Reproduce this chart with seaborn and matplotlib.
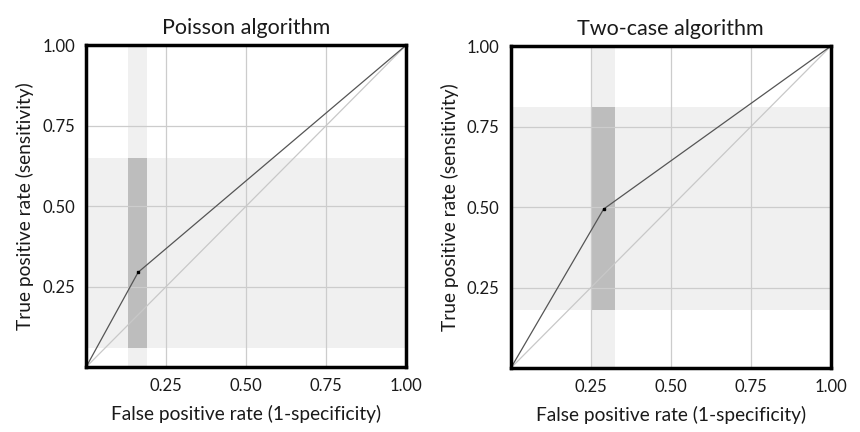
import matplotlib
matplotlib.use("Agg")
import matplotlib.pyplot as plt
import seaborn as sns
import pandas as pd

# ── data ──────────────────────────────────────────────────────────────────────
panel_titles = ["Poisson algorithm", "Two-case algorithm"]

poisson_fpr = [0.0, 0.163, 1.0]
poisson_tpr = [0.0, 0.295, 1.0]
poisson_fpr_ci = [0.13, 0.19]
poisson_tpr_ci = [0.06, 0.65]

twocase_fpr = [0.0, 0.29, 1.0]
twocase_tpr = [0.0, 0.494, 1.0]
twocase_fpr_ci = [0.25, 0.325]
twocase_tpr_ci = [0.18, 0.81]

tick_values = [0.25, 0.50, 0.75, 1.00]
tick_labels = ["0.25", "0.50", "0.75", "1.00"]

# ── style ─────────────────────────────────────────────────────────────────────
sns.set_style("white")
plt.rcParams['font.family'] = ['Lato', 'DejaVu Sans']

LIGHT = '#f0f0f0'
DARK = '#bdbdbd'
GRID = '#cccccc'
TEXT = '#1a1a1a'


def draw_panel(ax, title, fpr, tpr, fpr_ci, tpr_ci):
    # confidence bands: vertical (FPR) and horizontal (TPR), darker where they cross
    ax.axvspan(fpr_ci[0], fpr_ci[1], color=LIGHT, lw=0, zorder=0.2)
    ax.axhspan(tpr_ci[0], tpr_ci[1], color=LIGHT, lw=0, zorder=0.2)
    ax.fill_between(fpr_ci, tpr_ci[0], tpr_ci[1], color=DARK, lw=0, zorder=0.3)

    for v in tick_values[:-1]:
        ax.axvline(v, color=GRID, lw=0.9, zorder=0.5)
        ax.axhline(v, color=GRID, lw=0.9, zorder=0.5)

    # chance diagonal
    ax.plot([0, 1], [0, 1], color='#c8c8c8', lw=0.9, zorder=1)

    df = pd.DataFrame({'fpr': fpr, 'tpr': tpr})
    sns.lineplot(data=df, x='fpr', y='tpr', ax=ax, color='#555555', lw=0.9,
                 sort=False, zorder=2)
    ax.plot(fpr[1], tpr[1], 's', color='black', ms=2, zorder=3)

    ax.set_xlim(0, 1)
    ax.set_ylim(0, 1)
    ax.set_xticks(tick_values)
    ax.set_xticklabels(tick_labels)
    ax.set_yticks(tick_values)
    ax.set_yticklabels(tick_labels)
    ax.tick_params(length=0, labelsize=12, pad=8, colors=TEXT)
    ax.set_title(title, fontsize=15.5, pad=8, color=TEXT)
    ax.set_xlabel('False positive rate (1-specificity)', fontsize=13.8,
                  labelpad=8, color=TEXT)
    ax.set_ylabel('True positive rate (sensitivity)', fontsize=13.8,
                  labelpad=6, color=TEXT)
    for sp in ax.spines.values():
        sp.set_visible(True)
        sp.set_color('black')
        sp.set_linewidth(2.5)
        sp.set_zorder(4)


fig = plt.figure(figsize=(8.6, 4.32), dpi=100)
ax1 = fig.add_axes([0.100, 0.150, 0.372, 0.745])
ax2 = fig.add_axes([0.594, 0.148, 0.372, 0.745])

draw_panel(ax1, panel_titles[0], poisson_fpr, poisson_tpr, poisson_fpr_ci, poisson_tpr_ci)
draw_panel(ax2, panel_titles[1], twocase_fpr, twocase_tpr, twocase_fpr_ci, twocase_tpr_ci)

fig.savefig('out.png', dpi=100)
